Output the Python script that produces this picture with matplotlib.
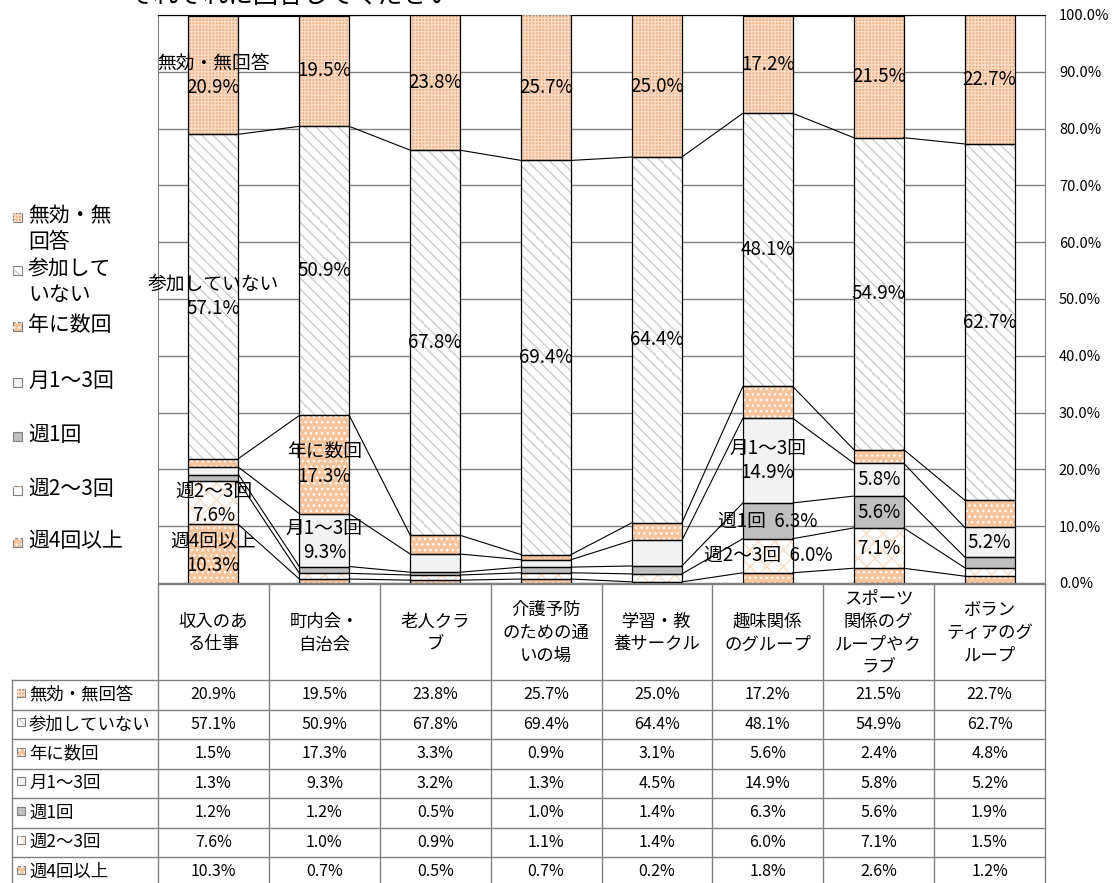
import matplotlib
matplotlib.use('Agg')
import matplotlib.pyplot as plt
from matplotlib.patches import Rectangle
import numpy as np

plt.rcParams['font.family'] = ['Noto Sans CJK JP', 'DejaVu Sans']
plt.rcParams['hatch.linewidth'] = 1.0

# --- data ---
categories = ['収入のあ\nる仕事', '町内会・\n自治会', '老人クラ\nブ', '介護予防\nのための通\nいの場',
              '学習・教\n養サークル', '趣味関係\nのグループ', 'スポーツ\n関係のグ\nループやク\nラブ',
              'ボラン\nティアのグ\nループ']

# bottom -> top stacking order
series_names = ['週4回以上', '週2～3回', '週1回', '月1～3回', '年に数回', '参加していない', '無効・無回答']
week4 = [10.3, 0.7, 0.5, 0.7, 0.2, 1.8, 2.6, 1.2]
week23 = [7.6, 1.0, 0.9, 1.1, 1.4, 6.0, 7.1, 1.5]
week1 = [1.2, 1.2, 0.5, 1.0, 1.4, 6.3, 5.6, 1.9]
month13 = [1.3, 9.3, 3.2, 1.3, 4.5, 14.9, 5.8, 5.2]
yearly = [1.5, 17.3, 3.3, 0.9, 3.1, 5.6, 2.4, 4.8]
not_join = [57.1, 50.9, 67.8, 69.4, 64.4, 48.1, 54.9, 62.7]
no_answer = [20.9, 19.5, 23.8, 25.7, 25.0, 17.2, 21.5, 22.7]
series = [week4, week23, week1, month13, yearly, not_join, no_answer]

# label mode per series/category: v = value, nv = name over value, ni = name + value inline
label_modes = [
    ['nv', '', '', '', '', '', '', ''],        # 週4回以上
    ['nv', '', '', '', '', 'ni', 'v', ''],     # 週2～3回
    ['', '', '', '', '', 'ni', 'v', ''],       # 週1回
    ['', 'nv', '', '', '', 'nv', 'v', 'v'],    # 月1～3回
    ['', 'nv', '', '', '', '', '', ''],        # 年に数回
    ['nv', 'v', 'v', 'v', 'v', 'v', 'v', 'v'],  # 参加していない
    ['nv', 'v', 'v', 'v', 'v', 'v', 'v', 'v'],  # 無効・無回答
]

legend_labels = ['週4回以上', '週2～3回', '週1回', '月1～3回', '年に数回', '参加して\nいない', '無効・無\n回答']

# styles: fill, hatch, hatch colour
styles = [
    dict(fc='#F8C49C', hatch='...', hc='white'),
    dict(fc='white', hatch='xx', hc='#FBDCC4'),
    dict(fc='#BFBFBF', hatch=None, hc=None),
    dict(fc='#F2F2F2', hatch=None, hc=None),
    dict(fc='#F8C49C', hatch='...', hc='white'),
    dict(fc='white', hatch='\\\\\\', hc='#CCCCCC'),
    dict(fc='#F2AC7C', hatch='+++++', hc='#FADDC8'),
]

W, H = 1114, 883
fig = plt.figure(figsize=(W / 100, H / 100), dpi=100)

L, R, T, B = 158, 1045, 15, 583
ax = fig.add_axes([L / W, 1 - B / H, (R - L) / W, (B - T) / H])

x = np.arange(len(categories))
w = 0.45
bottom = np.zeros(len(categories))
tops = []
for vals, st in zip(series, styles):
    vals = np.array(vals)
    ax.bar(x, vals, w, bottom=bottom, color=st['fc'], edgecolor='none', zorder=2)
    if st['hatch']:
        ax.bar(x, vals, w, bottom=bottom, color='none', edgecolor=st['hc'],
               hatch=st['hatch'], linewidth=0, zorder=3)
    ax.bar(x, vals, w, bottom=bottom, fill=False, edgecolor='black', linewidth=0.9, zorder=4)
    bottom = bottom + vals
    tops.append(bottom.copy())

# series lines
for t in tops:
    for i in range(len(categories) - 1):
        ax.plot([x[i] + w / 2, x[i + 1] - w / 2], [t[i], t[i + 1]],
                color='black', lw=0.8, zorder=5)

# data labels
bottom = np.zeros(len(categories))
for s, vals in enumerate(series):
    for i, v in enumerate(vals):
        m = label_modes[s][i]
        yc = bottom[i] + v / 2
        if m == 'v':
            txt = f'{v:.1f}%'
        elif m == 'nv':
            txt = f'{series_names[s]}\n{v:.1f}%'
        elif m == 'ni':
            txt = f'{series_names[s]}  {v:.1f}%'
        else:
            continue
        ax.text(x[i], yc, txt, ha='center', va='center', fontsize=13.5,
                linespacing=1.2, zorder=6)
    bottom = bottom + np.array(vals)

ax.set_xlim(-0.5, len(categories) - 0.5)
ax.set_ylim(0, 100)
ax.set_xticks([])
ax.set_yticks(range(0, 101, 10))
ax.set_yticklabels([f'{v:.1f}%' for v in range(0, 101, 10)], fontsize=10.5)
ax.yaxis.tick_right()
ax.tick_params(axis='y', length=0, pad=10)
ax.yaxis.grid(True, color='#808080', lw=1)
ax.set_axisbelow(True)
for sp in ax.spines.values():
    sp.set_color('#808080')
ax.spines['top'].set_color('black')

# overlay in pixel coordinates for legend, table and title
ov = fig.add_axes([0, 0, 1, 1], zorder=-1)
ov.set_xlim(0, W)
ov.set_ylim(H, 0)
ov.axis('off')


def marker(px, py, st, size):
    ov.add_patch(Rectangle((px, py - size / 2), size, size, facecolor=st['fc'],
                           edgecolor='#808080', lw=0.8))
    if st['hatch']:
        ov.add_patch(Rectangle((px, py - size / 2), size, size, facecolor='none',
                               edgecolor=st['hc'], hatch=st['hatch'], lw=0))


# title (clipped at the top, as in the source image)
fig.text(128 / W, 1 + 4 / H, 'それぞれに回答してください', fontsize=18, va='center', ha='left')

# legend
legend_y = [542, 490, 436, 382, 326, 270, 217]
for lab, st, ly in zip(legend_labels, styles, legend_y):
    marker(13, ly, st, 9)
    ov.text(28, ly - 12, lab, fontsize=15, va='top', ha='left', linespacing=1.25)

# table
col_x = np.linspace(L, R, len(categories) + 1)
row_top = 680
row_h = 29.5
n_rows = len(series)
grid_c = '#808080'
ov.plot([L, R], [B + 1, B + 1], color=grid_c, lw=1)
for k in range(n_rows + 1):
    yy = row_top + k * row_h
    ov.plot([12, R], [yy, yy], color=grid_c, lw=1)
for cx in col_x:
    ov.plot([cx, cx], [B + 1, H], color=grid_c, lw=1)
ov.plot([12, 12], [row_top, H], color=grid_c, lw=1)

for i, cat in enumerate(categories):
    ov.text((col_x[i] + col_x[i + 1]) / 2, 633, cat, ha='center', va='center',
            fontsize=12.5, linespacing=1.35, multialignment='center')

for r in range(n_rows):
    s = n_rows - 1 - r
    yc = row_top + r * row_h + row_h / 2
    marker(17, yc - 2, styles[s], 8)
    ov.text(29, yc, series_names[s], fontsize=12.5, va='center', ha='left')
    for i, v in enumerate(series[s]):
        ov.text((col_x[i] + col_x[i + 1]) / 2, yc, f'{v:.1f}%', fontsize=11.5,
                ha='center', va='center')

fig.savefig('out.png', dpi=100)
